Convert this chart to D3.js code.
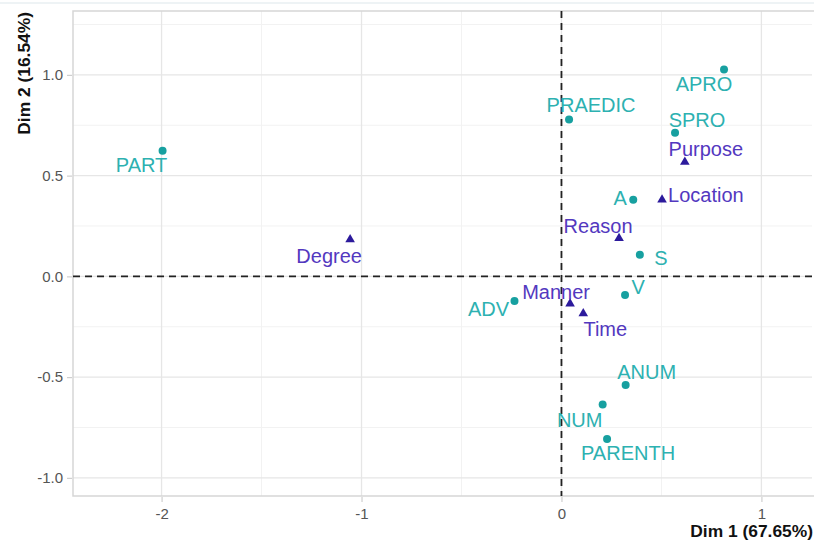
<!DOCTYPE html>
<html>
<head>
<meta charset="utf-8">
<script src="https://cdn.jsdelivr.net/npm/d3@7"></script>
<style>
 body{margin:0;background:#fff;}
 text{font-family:"Liberation Sans",Arial,sans-serif;}
</style>
</head>
<body>
<div id="chart"></div>
<script>
// row points (teal dots)
var rowNames=["PART","PRAEDIC","APRO","SPRO","A","S","V","ADV","ANUM","NUM","PARENTH"];
var rowDim1=[-1.995,0.038,0.813,0.568,0.359,0.392,0.318,-0.235,0.321,0.206,0.228];
var rowDim2=[0.624,0.779,1.027,0.713,0.380,0.107,-0.092,-0.122,-0.539,-0.636,-0.807];
// column points (purple triangles)
var colNames=["Purpose","Location","Reason","Degree","Manner","Time"];
var colDim1=[0.617,0.503,0.288,-1.057,0.043,0.109];
var colDim2=[0.570,0.383,0.192,0.185,-0.133,-0.182];
var xTicks=[-2,-1,0,1];
var yTicks=[-1,-0.5,0,0.5,1];
var xTitle="Dim 1 (67.65%)", yTitle="Dim 2 (16.54%)";

// label nudges (px) so the texts sit where the repelled labels sit
var labelNudge={
 PART:[-21,14],PRAEDIC:[22,-14],APRO:[-20,15],SPRO:[22,-13],A:[-13,-2],S:[21,3],V:[13,-8],
 ADV:[-26,8],ANUM:[21,-13],NUM:[-23,15],PARENTH:[21,14],
 Purpose:[21,-13],Location:[6,-4],Reason:[-21,-12],Degree:[-21,17],Manner:[-14,-11],Time:[22,16]
};

var W=814,H=542;
var m={left:73,right:812,top:11,bottom:496};
var rowCol="#17a0a0",rowText="#2db1b1",colCol="#2c1a9c",colText="#5338bf";

var svg=d3.select("#chart").append("svg").attr("width",W).attr("height",H);
svg.append("line").attr("x1",0).attr("x2",W).attr("y1",3).attr("y2",3).attr("stroke","#eef3f5").attr("stroke-width",2);

var x=d3.scaleLinear().domain([-2.443,1.253]).range([m.left,m.right]);
var y=d3.scaleLinear().domain([-1.09,1.317]).range([m.bottom,m.top]);

var g=svg.append("g");
// minor grid
var xMinor=[-1.5,-0.5,0.5], yMinor=[-0.75,-0.25,0.25,0.75,1.25];
g.selectAll(".xm").data(xMinor).enter().append("line")
 .attr("x1",d=>x(d)).attr("x2",d=>x(d)).attr("y1",m.top).attr("y2",m.bottom)
 .attr("stroke","#f2f2f2").attr("stroke-width",1);
g.selectAll(".ym").data(yMinor).enter().append("line")
 .attr("y1",d=>y(d)).attr("y2",d=>y(d)).attr("x1",m.left).attr("x2",m.right)
 .attr("stroke","#f2f2f2").attr("stroke-width",1);
// major grid
g.selectAll(".xg").data(xTicks).enter().append("line")
 .attr("x1",d=>x(d)).attr("x2",d=>x(d)).attr("y1",m.top).attr("y2",m.bottom)
 .attr("stroke","#e6e6e6").attr("stroke-width",1.3);
g.selectAll(".yg").data(yTicks).enter().append("line")
 .attr("y1",d=>y(d)).attr("y2",d=>y(d)).attr("x1",m.left).attr("x2",m.right)
 .attr("stroke","#e6e6e6").attr("stroke-width",1.3);

// panel border
svg.append("rect").attr("x",m.left).attr("y",m.top).attr("width",m.right-m.left+4).attr("height",m.bottom-m.top)
 .attr("fill","none").attr("stroke","#d6d6d6").attr("stroke-width",1.5);

// axes (plain hyphen minus, as in the original)
var hy=f=>(d=>f(d).replace("\u2212","-"));
var xa=svg.append("g").attr("transform","translate(0,"+(m.bottom+1)+")")
 .call(d3.axisBottom(x).tickValues(xTicks).tickSize(5).tickPadding(6).tickFormat(hy(d3.format("d"))));
var ya=svg.append("g").attr("transform","translate("+(m.left-1)+",0)")
 .call(d3.axisLeft(y).tickValues(yTicks).tickSize(5).tickPadding(4).tickFormat(hy(d3.format(".1f"))));
[xa,ya].forEach(function(a){
 a.select(".domain").remove();
 a.selectAll(".tick line").attr("stroke","#cfcfcf").attr("stroke-width",1.2);
 a.selectAll(".tick text").attr("fill","#555").style("font-size","15px").style("font-family","'Liberation Sans',Arial,sans-serif");
});

// reference lines
svg.append("line").attr("x1",m.left).attr("x2",m.right).attr("y1",y(0)).attr("y2",y(0))
 .attr("stroke","#222").attr("stroke-width",1.8).attr("stroke-dasharray","7,5");
svg.append("line").attr("x1",x(0)).attr("x2",x(0)).attr("y1",m.top).attr("y2",m.bottom)
 .attr("stroke","#222").attr("stroke-width",1.8).attr("stroke-dasharray","7,5");

var rows=rowNames.map((n,i)=>({name:n,d1:rowDim1[i],d2:rowDim2[i]}));
var cols=colNames.map((n,i)=>({name:n,d1:colDim1[i],d2:colDim2[i]}));

svg.selectAll(".rp").data(rows).enter().append("circle")
 .attr("cx",d=>x(d.d1)).attr("cy",d=>y(d.d2)).attr("r",4).attr("fill",rowCol);
var tri=d3.symbol().type(d3.symbolTriangle).size(40);
svg.selectAll(".cp").data(cols).enter().append("path")
 .attr("d",tri).attr("transform",d=>"translate("+x(d.d1)+","+(y(d.d2)+0.5)+")").attr("fill",colCol);

function labels(data,color){
 svg.selectAll(null).data(data).enter().append("text")
  .attr("x",d=>x(d.d1)+labelNudge[d.name][0])
  .attr("y",d=>y(d.d2)+labelNudge[d.name][1]+7)
  .attr("text-anchor",d=>d.name==="Location"?"start":"middle")
  .attr("fill",color).style("font-size","20px").text(d=>d.name);
}
labels(rows,rowText);
labels(cols,colText);

// axis titles
svg.append("text").attr("x",813).attr("y",537).attr("text-anchor","end")
 .style("font-size","17.4px").style("font-weight","bold").attr("fill","#111").text(xTitle);
svg.append("text").attr("transform","translate(30,12) rotate(-90)").attr("text-anchor","end")
 .style("font-size","17.4px").style("font-weight","bold").attr("fill","#111").text(yTitle);
</script>
</body>
</html>
